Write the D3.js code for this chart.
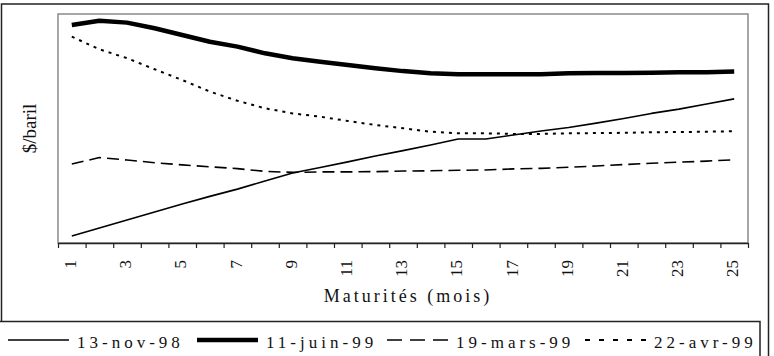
<!DOCTYPE html>
<html>
<head>
<meta charset="utf-8">
<script src="https://cdn.jsdelivr.net/npm/d3@7"></script>
<style>
  body { margin: 0; background: #fff; }
  svg { display: block; font-family: "Liberation Serif", "Times New Roman", serif; }
</style>
</head>
<body>
<div id="chart"></div>
<script>
// maturities in months (x categories)
const maturities = [1, 2, 3, 4, 5, 6, 7, 8, 9, 10, 11, 12, 13, 14, 15, 16, 17, 18, 19, 20, 21, 22, 23, 24, 25];
const tickLabels = ["1", "3", "5", "7", "9", "11", "13", "15", "17", "19", "21", "23", "25"];

// forward curves, $/baril
const nov98 = [10.76, 11.06, 11.35, 11.65, 11.95, 12.23, 12.50, 12.80, 13.10, 13.30, 13.51, 13.73, 13.93,
               14.14, 14.36, 14.36, 14.51, 14.66, 14.79, 14.95, 15.12, 15.31, 15.47, 15.66, 15.85];
const juin99 = [18.59, 18.75, 18.68, 18.47, 18.22, 17.97, 17.79, 17.54, 17.36, 17.23, 17.11, 16.99, 16.88,
                16.80, 16.76, 16.76, 16.76, 16.76, 16.80, 16.81, 16.81, 16.82, 16.84, 16.84, 16.87];
const mars99 = [13.43, 13.67, 13.58, 13.48, 13.40, 13.33, 13.26, 13.16, 13.12, 13.14, 13.14, 13.15, 13.17,
                13.18, 13.20, 13.21, 13.25, 13.27, 13.31, 13.36, 13.41, 13.46, 13.50, 13.54, 13.59];
const avr99 = [18.16, 17.69, 17.36, 16.95, 16.55, 16.12, 15.78, 15.50, 15.31, 15.19, 15.03, 14.88, 14.76,
               14.63, 14.57, 14.57, 14.55, 14.55, 14.57, 14.58, 14.59, 14.61, 14.62, 14.63, 14.65];
const seriesNames = ["13-nov-98", "11-juin-99", "19-mars-99", "22-avr-99"];

const series = [
    { name: seriesNames[0], values: nov98, width: 1.6, dash: null, legendDash: null },
    { name: seriesNames[1], values: juin99, width: 4.5, dash: null, legendDash: null },
    { name: seriesNames[2], values: mars99, width: 1.6, dash: "12,6", legendDash: "15,8" },
    { name: seriesNames[3], values: avr99, width: 2, dash: "3,5", legendDash: "5,9" }
];

const W = 774, H = 356;
const plot = { left: 58, right: 748, top: 14, bottom: 243 };

const svg = d3.select("#chart").append("svg")
    .attr("width", W)
    .attr("height", H);

// outer frame
svg.append("rect")
    .attr("x", 1.5).attr("y", 4)
    .attr("width", 767).attr("height", 400)
    .attr("fill", "none").attr("stroke", "#222").attr("stroke-width", 1.5);

const x = d3.scaleBand()
    .domain(maturities)
    .range([plot.left, plot.right]);

const y = d3.scaleLinear()
    .domain([10.5, 19])
    .range([plot.bottom, plot.top]);

// plot area border (grey)
svg.append("rect")
    .attr("x", plot.left).attr("y", plot.top)
    .attr("width", plot.right - plot.left).attr("height", plot.bottom - plot.top)
    .attr("fill", "none").attr("stroke", "#8a8a8a").attr("stroke-width", 1.5);

// x axis: ticks between categories
const xEdge = d3.scaleLinear()
    .domain([0.5, maturities.length + 0.5])
    .range([plot.left, plot.right]);

svg.append("g")
    .attr("transform", `translate(0,${plot.bottom})`)
    .call(d3.axisBottom(xEdge)
        .tickValues(d3.range(0.5, maturities.length + 1, 1))
        .tickSize(5)
        .tickSizeOuter(0)
        .tickFormat(""))
    .call(g => g.select(".domain").attr("stroke", "#222").attr("stroke-width", 1.5))
    .call(g => g.selectAll(".tick line").attr("stroke", "#222").attr("stroke-width", 1.2));

// tick labels, turned a quarter turn (read bottom to top)
const tickG = svg.append("g").selectAll("g")
    .data(tickLabels)
    .join("g")
    .attr("transform", d => `translate(${x(+d) + x.bandwidth() / 2},${plot.bottom + 17})`);

tickG.append("text")
    .attr("transform", "rotate(-90)")
    .attr("dy", "0.25em")
    .attr("text-anchor", "end")
    .attr("font-size", 17)
    .attr("fill", "#111")
    .text(d => d);

// axis titles
svg.append("text")
    .attr("x", (plot.left + plot.right) / 2 + 5)
    .attr("y", 302)
    .attr("text-anchor", "middle")
    .attr("font-size", 18)
    .attr("letter-spacing", 3)
    .attr("fill", "#111")
    .text("Maturités (mois)");

svg.append("text")
    .attr("transform", `translate(36,${(plot.top + plot.bottom) / 2}) rotate(-90)`)
    .attr("text-anchor", "middle")
    .attr("font-size", 19)
    .attr("fill", "#111")
    .text("$/baril");

// curves
const line = d3.line()
    .x((d, i) => x(maturities[i]) + x.bandwidth() / 2)
    .y(d => y(d));

svg.append("g").selectAll("path")
    .data(series)
    .join("path")
    .attr("d", d => line(d.values))
    .attr("fill", "none")
    .attr("stroke", "#000")
    .attr("stroke-width", d => d.width)
    .attr("stroke-dasharray", d => d.dash)
    .attr("stroke-linejoin", "round");

// legend
svg.append("rect")
    .attr("x", -2).attr("y", 321.5)
    .attr("width", 762).attr("height", 60)
    .attr("fill", "#fff").attr("stroke", "#222").attr("stroke-width", 1.5);

const legendX = [8, 197, 387, 585]; // where each sample line starts
const legend = svg.append("g").selectAll("g")
    .data(series)
    .join("g")
    .attr("transform", (d, i) => `translate(${legendX[i]},340)`);

legend.append("line")
    .attr("x1", 0).attr("x2", 61)
    .attr("stroke", "#000")
    .attr("stroke-width", d => d.width)
    .attr("stroke-dasharray", d => d.legendDash);

legend.append("text")
    .attr("x", 69)
    .attr("y", 8)
    .attr("font-size", 17)
    .attr("letter-spacing", 4)
    .attr("fill", "#111")
    .text(d => d.name);
</script>
</body>
</html>
